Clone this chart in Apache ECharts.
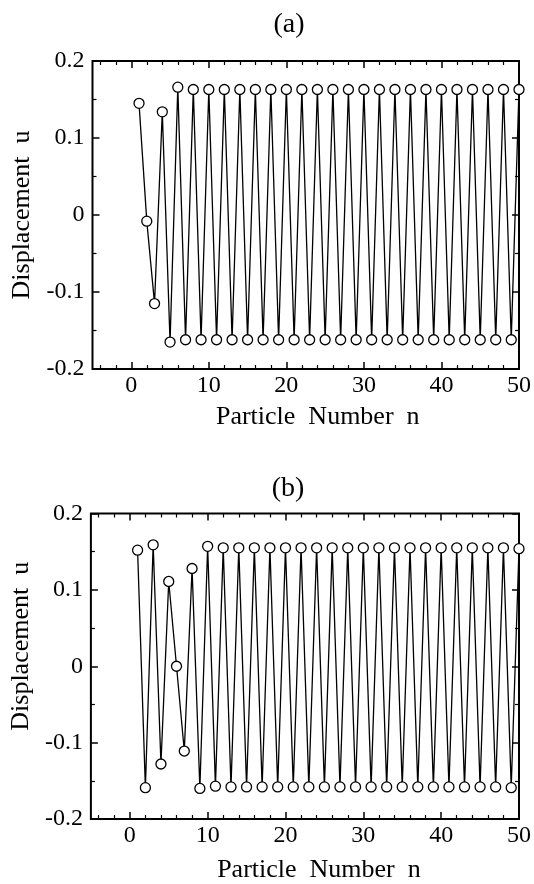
<!DOCTYPE html>
<html>
<head>
<meta charset="utf-8">
<script src="https://cdn.jsdelivr.net/npm/echarts@6/dist/echarts.min.js"></script>
<style>
html,body{margin:0;padding:0;background:#fff;}
#chart{width:534px;height:884px;}
</style>
</head>
<body>
<div id="chart"></div>
<script>
// Particle numbers
const particleN = [1,2,3,4,5,6,7,8,9,10,11,12,13,14,15,16,17,18,19,20,21,22,23,24,25,26,27,28,29,30,31,32,33,34,35,36,37,38,39,40,41,42,43,44,45,46,47,48,49,50];
// Panel (a) displacement
const uA = [0.145,-0.008,-0.115,0.134,-0.165,0.166,-0.162,0.163,-0.162,0.163,
            -0.162,0.163,-0.162,0.163,-0.162,0.163,-0.162,0.163,-0.162,0.163,
            -0.162,0.163,-0.162,0.163,-0.162,0.163,-0.162,0.163,-0.162,0.163,
            -0.162,0.163,-0.162,0.163,-0.162,0.163,-0.162,0.163,-0.162,0.163,
            -0.162,0.163,-0.162,0.163,-0.162,0.163,-0.162,0.163,-0.162,0.163];
// Panel (b) displacement
const uB = [0.152,-0.159,0.159,-0.128,0.111,0.000,-0.111,0.128,-0.160,0.157,
            -0.157,0.155,-0.158,0.155,-0.158,0.155,-0.158,0.155,-0.158,0.155,
            -0.158,0.155,-0.158,0.155,-0.158,0.155,-0.158,0.155,-0.158,0.155,
            -0.158,0.155,-0.158,0.155,-0.158,0.155,-0.158,0.155,-0.158,0.155,
            -0.158,0.155,-0.158,0.155,-0.158,0.155,-0.158,0.155,-0.159,0.154];
// Tick values
const xMajorTicks = [0,10,20,30,40,50];
const xMinorTicks = [-4,-2,2,4,6,8,12,14,16,18,22,24,26,28,32,34,36,38,42,44,46,48];
const panelTitles = ['(a)','(b)'];
const xAxisTitle = 'Particle  Number  n';
const yAxisTitle = 'Displacement  u';

const FONT = '"Liberation Serif", "Times New Roman", serif';
const chart = echarts.init(document.getElementById('chart'), null, {renderer:'canvas'});

const grids = [
  {left:92.5, top:61, width:428.5, height:308, show:true, borderColor:'#000', borderWidth:2, backgroundColor:'transparent'},
  {left:90, top:513.5, width:429.5, height:309, show:true, borderColor:'#000', borderWidth:2, backgroundColor:'transparent'}
];
const xNameGap = [35, 38];
const xNamePad = [[0,0,0,24],[0,0,0,28]];
const yNameGap = [57, 56];
const yNamePad = [[0,0,0,0],[0,0,0,40]];

const xAxes = [], yAxes = [], series = [];
[uA, uB].forEach((vals, g) => {
  const base = {gridIndex:g, type:'value', min:-5, max:50, splitLine:{show:false}};
  const noLine = {show:false, onZero:false};
  xAxes.push(Object.assign({}, base, {
    position:'bottom',
    axisLine:noLine,
    axisTick:{show:true, inside:true, length:7, customValues:xMajorTicks, lineStyle:{color:'#000', width:1.5}},
    axisLabel:{show:true, customValues:xMajorTicks, margin:5, fontSize:24, fontFamily:FONT, color:'#000'},
    name:xAxisTitle, nameLocation:'middle', nameGap:xNameGap[g],
    nameTextStyle:{fontSize:26, fontFamily:FONT, color:'#000', padding:xNamePad[g]}
  }));
  xAxes.push(Object.assign({}, base, {
    position:'bottom', axisLine:noLine, axisLabel:{show:false},
    axisTick:{show:true, inside:true, length:4, customValues:xMinorTicks, lineStyle:{color:'#000', width:1.2}}
  }));
  xAxes.push(Object.assign({}, base, {
    position:'top', axisLine:noLine, axisLabel:{show:false},
    axisTick:{show:true, inside:true, length:7, customValues:xMajorTicks, lineStyle:{color:'#000', width:1.5}}
  }));
  xAxes.push(Object.assign({}, base, {
    position:'top', axisLine:noLine, axisLabel:{show:false},
    axisTick:{show:true, inside:true, length:4, customValues:xMinorTicks, lineStyle:{color:'#000', width:1.2}}
  }));
  const yBase = {gridIndex:g, type:'value', min:-0.2, max:0.2, interval:0.1, splitLine:{show:false},
    axisLine:noLine,
    axisTick:{show:true, inside:true, length:7, lineStyle:{color:'#000', width:1.5}},
    minorTick:{show:true, splitNumber:2, length:4, lineStyle:{color:'#000', width:1.2}}};
  yAxes.push(Object.assign({}, yBase, {
    position:'left',
    axisLabel:{show:true, margin:8, fontSize:24, fontFamily:FONT, color:'#000'},
    name:yAxisTitle, nameLocation:'middle', nameGap:yNameGap[g],
    nameTextStyle:{fontSize:26, fontFamily:FONT, color:'#000', padding:yNamePad[g]}
  }));
  yAxes.push(Object.assign({}, yBase, {position:'right', axisLabel:{show:false}}));
  series.push({
    type:'line', xAxisIndex:g*4, yAxisIndex:g*2,
    data: particleN.map((n,i) => [n, vals[i]]),
    symbol:'circle', symbolSize:10, showSymbol:true, clip:false,
    lineStyle:{color:'#000', width:1.3},
    itemStyle:{color:'#fff', borderColor:'#000', borderWidth:1.3},
    z:5
  });
});

chart.setOption({
  animation:false,
  backgroundColor:'#fff',
  grid:grids,
  xAxis:xAxes,
  yAxis:yAxes,
  series:series,
  graphic:[
    {type:'text', x:289, y:25, style:{text:panelTitles[0], textAlign:'center', textVerticalAlign:'middle', font:'28px ' + FONT, fill:'#000'}},
    {type:'text', x:288, y:489, style:{text:panelTitles[1], textAlign:'center', textVerticalAlign:'middle', font:'28px ' + FONT, fill:'#000'}}
  ]
});
</script>
</body>
</html>
